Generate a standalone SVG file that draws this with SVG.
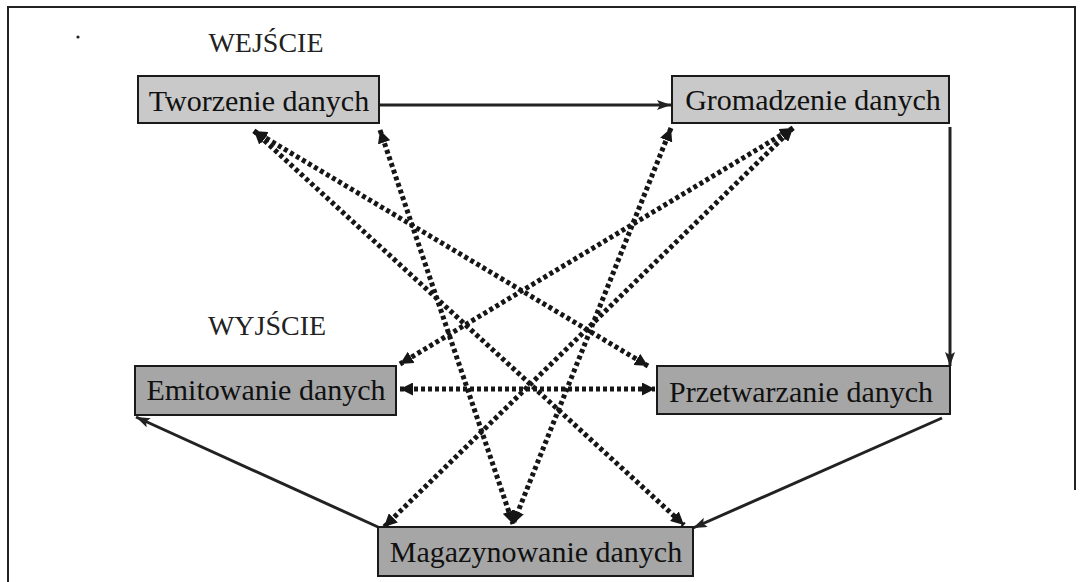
<svg xmlns="http://www.w3.org/2000/svg" width="1082" height="582" viewBox="0 0 1082 582">
<style>
.frame{fill:none;stroke:#222;stroke-width:2}
.box-light{fill:#c9c9c9;stroke:#1a1a1a;stroke-width:2}
.box-dark{fill:#a6a6a6;stroke:#1a1a1a;stroke-width:2}
.lbl{font-family:"Liberation Serif","Times New Roman",serif;font-size:30px;fill:#111;text-anchor:middle}
.head{font-family:"Liberation Serif","Times New Roman",serif;font-size:28px;fill:#222;text-anchor:middle}
.solid{fill:none;stroke:#222;stroke-width:3;marker-end:url(#arr)}
.dot{fill:none;stroke:#161616;stroke-width:5;stroke-dasharray:4 3;marker-start:url(#darr);marker-end:url(#darr)}
</style>
<defs>
<marker id="arr" viewBox="0 0 14 10" refX="14" refY="5" markerWidth="14" markerHeight="10" markerUnits="userSpaceOnUse" orient="auto">
<path d="M0,0 L14,5 L0,10 L3,5 Z" fill="#222"/>
</marker>
<marker id="darr" viewBox="0 0 13 13" refX="13" refY="6.5" markerWidth="13" markerHeight="13" markerUnits="userSpaceOnUse" orient="auto-start-reverse">
<path d="M0,0 L13,6.5 L0,13 Z" fill="#161616"/>
</marker>
</defs>
<rect width="1082" height="582" fill="#ffffff"/>
<path class="frame" d="M8,582 L8,7 L1075,7 L1075,490"/>
<circle cx="78" cy="37" r="1.6" fill="#222"/>
<text class="head" x="266" y="52">WEJŚCIE</text>
<text class="head" x="267" y="335">WYJŚCIE</text>
<g id="connectors">
<line class="solid" x1="379" y1="105" x2="671" y2="105"/>
<line class="solid" x1="950" y1="127" x2="950" y2="366"/>
<line class="solid" x1="942" y1="418" x2="693" y2="528"/>
<line class="solid" x1="378" y1="527" x2="136" y2="417"/>
<line class="dot" x1="254" y1="131" x2="648" y2="366"/>
<line class="dot" x1="254" y1="131" x2="684" y2="525"/>
<line class="dot" x1="380" y1="130" x2="513" y2="524"/>
<line class="dot" x1="671" y1="128" x2="513" y2="524"/>
<line class="dot" x1="793" y1="128" x2="400" y2="364"/>
<line class="dot" x1="793" y1="128" x2="384" y2="527"/>
<line class="dot" x1="400" y1="389" x2="655" y2="389"/>
</g>
<g id="tworzenie">
<rect class="box-light" x="138" y="76" width="241" height="47"/>
<text class="lbl" x="259" y="111">Tworzenie danych</text>
</g>
<g id="gromadzenie">
<rect class="box-light" x="672" y="76" width="277" height="47"/>
<text class="lbl" x="813" y="110">Gromadzenie danych</text>
</g>
<g id="emitowanie">
<rect class="box-dark" x="135" y="366" width="261" height="49"/>
<text class="lbl" x="266" y="400">Emitowanie danych</text>
</g>
<g id="przetwarzanie">
<rect class="box-dark" x="657" y="366" width="293" height="48"/>
<text class="lbl" x="801" y="402">Przetwarzanie danych</text>
</g>
<g id="magazynowanie">
<rect class="box-dark" x="378" y="527" width="315" height="49"/>
<text class="lbl" x="536" y="562">Magazynowanie danych</text>
</g>
</svg>
